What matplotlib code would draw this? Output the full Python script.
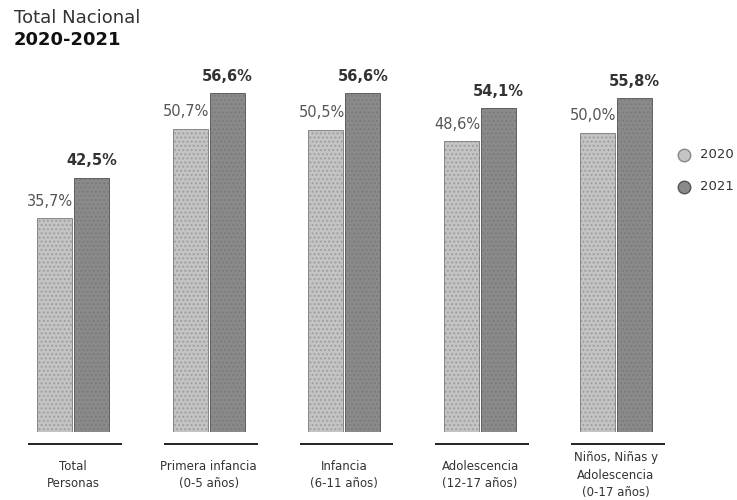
"""Total Nacional 2020-2021: grouped bar chart of percentages by age group."""

import matplotlib

matplotlib.use("Agg")

import matplotlib.pyplot as plt
import numpy as np
from matplotlib.lines import Line2D

categories = [
    "Total\nPersonas",
    "Primera infancia\n(0-5 años)",
    "Infancia\n(6-11 años)",
    "Adolescencia\n(12-17 años)",
    "Niños, Niñas y\nAdolescencia\n(0-17 años)",
]
values_2020 = [35.7, 50.7, 50.5, 48.6, 50.0]
values_2021 = [42.5, 56.6, 56.6, 54.1, 55.8]
series_labels = ["2020", "2021"]

COLOR_2020 = "#c4c4c4"
COLOR_2021 = "#8a8a8a"
TEXT = "#333333"

plt.rcParams["font.family"] = ["DejaVu Sans"]

fig = plt.figure(figsize=(7.37, 5.0), dpi=100)
ax = fig.add_axes([0.0, 0.136, 1.0, 0.718])

x = np.arange(len(categories))
width = 0.258
offset = 0.136

bars_a = ax.bar(x - offset, values_2020, width, color=COLOR_2020,
                edgecolor="#777777", linewidth=0.6, hatch="....")
bars_b = ax.bar(x + offset, values_2021, width, color=COLOR_2021,
                edgecolor="#505050", linewidth=0.6, hatch="....")
for b in list(bars_a) + list(bars_b):
    b._hatch_color = (0.4, 0.4, 0.4, 0.35)

for xi, v in zip(x, values_2020):
    ax.text(xi - offset + width / 2 + 0.01, v + 1.6, f"{v:.1f}%".replace(".", ","),
            ha="right", va="bottom", fontsize=10.5, color="#555555")
for xi, v in zip(x, values_2021):
    ax.text(xi + offset, v + 1.6, f"{v:.1f}%".replace(".", ","),
            ha="center", va="bottom", fontsize=10.5, fontweight="bold", color=TEXT)

# separator line under each group, category label centred below it
for xi in x:
    ax.plot([xi - 0.33, xi + 0.36], [-2.0, -2.0], color="#222222", lw=1.4,
            clip_on=False, solid_capstyle="butt")
    ax.text(xi, -7.2, categories[xi], ha="center", va="center", fontsize=8.5,
            color=TEXT, linespacing=1.45)

ax.set_xlim(-0.538, 4.893)
ax.set_ylim(0, 60)
ax.axis("off")

fig.text(0.019, 0.964, "Total Nacional", fontsize=13, color=TEXT, va="center")
fig.text(0.019, 0.920, "2020-2021", fontsize=13, fontweight="bold", color="#111111", va="center")

# legend: marker + label, drawn in figure coordinates
legend_y = [0.690, 0.626]
for label, col, edge, ly in zip(series_labels, [COLOR_2020, COLOR_2021],
                                ["#888888", "#555555"], legend_y):
    fig.add_artist(Line2D([0.928], [ly], marker="o", ls="none", markersize=9,
                          color=col, markeredgecolor=edge, transform=fig.transFigure))
    fig.text(0.950, ly, label, fontsize=9.5, color=TEXT, va="center", ha="left")

fig.savefig("out.png", dpi=100)
plt.close(fig)
